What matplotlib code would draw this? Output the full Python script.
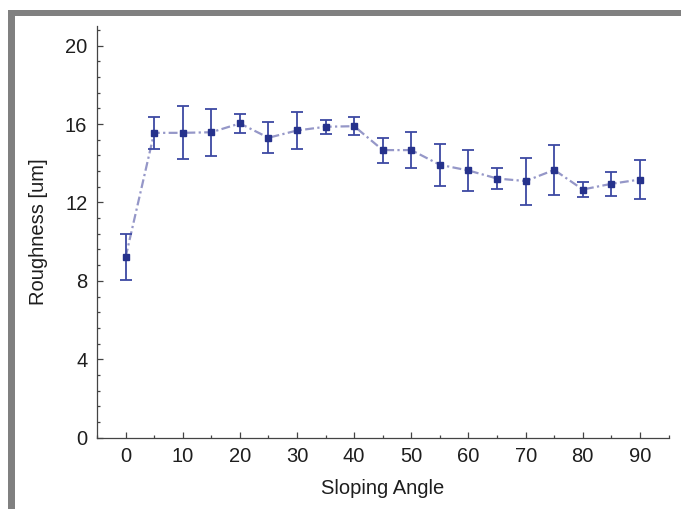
import numpy as np
import matplotlib
matplotlib.use("Agg")
import matplotlib.pyplot as plt
from matplotlib.ticker import MultipleLocator
from matplotlib.patches import Rectangle

plt.rcParams['font.family'] = ['Liberation Sans', 'DejaVu Sans']

# surface roughness vs. sloping angle (mean +/- std)
angles = [0, 5, 10, 15, 20, 25, 30, 35, 40, 45, 50, 55, 60, 65, 70, 75, 80, 85, 90]
roughness = [9.2, 15.55, 15.55, 15.58, 16.03, 15.3, 15.67, 15.86, 15.89, 14.67,
             14.67, 13.92, 13.63, 13.22, 13.09, 13.66, 12.66, 12.95, 13.17]
roughness_err = [1.17, 0.82, 1.35, 1.2, 0.5, 0.8, 0.95, 0.37, 0.46, 0.64,
                 0.93, 1.06, 1.03, 0.54, 1.2, 1.28, 0.39, 0.6, 0.97]

W, H = 681, 509
fig = plt.figure(figsize=(W/100, H/100), dpi=100)
ax = fig.add_axes([97/W, 71.3/H, 571.5/W, 411.7/H])

# gray frame along top and left edge
fig.add_artist(Rectangle((8/W, 1-16/H), 1, 6/H, transform=fig.transFigure,
                         color='#808080', lw=0))
fig.add_artist(Rectangle((8/W, 0), 7/W, 1-10/H, transform=fig.transFigure,
                         color='#808080', lw=0))

ax.plot(angles, roughness, color='#9597c8', lw=1.6, zorder=2,
        dashes=(4, 1.5, 1, 1.5))
ax.errorbar(angles, roughness, yerr=roughness_err, fmt='none', ecolor='#3d49a3',
            elinewidth=1.3, capsize=4.2, capthick=1.3, zorder=3)
ax.plot(angles, roughness, 's', color='#26328c', ms=4.2, zorder=4)

ax.set_xlim(-5, 95)
ax.set_ylim(0, 21)
ax.xaxis.set_major_locator(MultipleLocator(10))
ax.xaxis.set_minor_locator(MultipleLocator(5))
ax.yaxis.set_major_locator(MultipleLocator(4))
ax.yaxis.set_minor_locator(MultipleLocator(0.8))

for s in ['top', 'right']:
    ax.spines[s].set_visible(False)
for s in ['left', 'bottom']:
    ax.spines[s].set_color('#444444')
    ax.spines[s].set_linewidth(0.9)

ax.tick_params(which='major', direction='in', length=4.5, width=0.9,
               color='#444444', labelsize=14.5, labelcolor='#1e1e1e', pad=7)
ax.tick_params(which='minor', direction='in', length=2.5, width=0.9, color='#444444')

ax.set_xlabel('Sloping Angle', fontsize=14.5, color='#1e1e1e', labelpad=9)
ax.set_ylabel('Roughness [um]', fontsize=14.5, color='#1e1e1e', labelpad=12)

fig.savefig('out.png', dpi=100)
